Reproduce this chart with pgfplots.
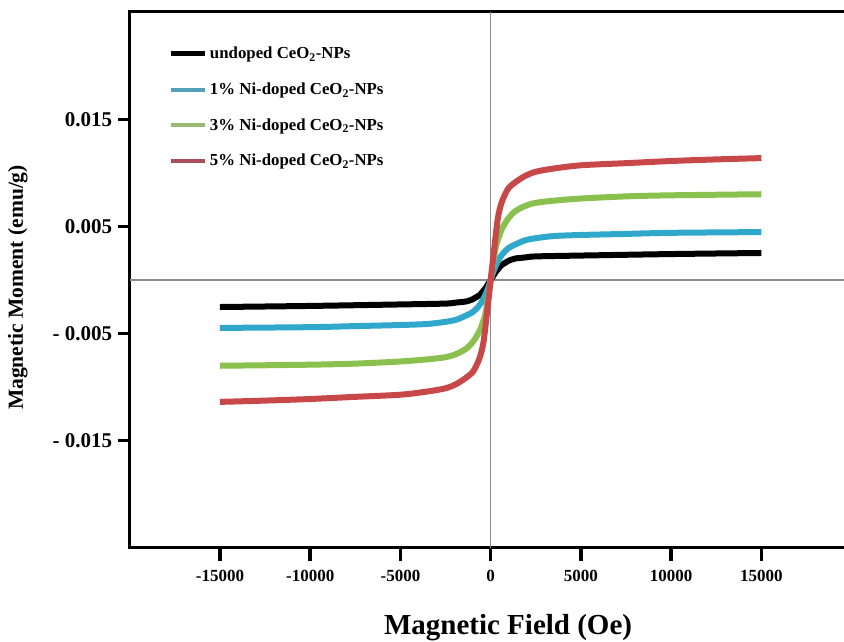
\documentclass[border=0pt]{standalone}
\usepackage{fontspec}
\setmainfont{Liberation Serif}
\usepackage{pgfplots}
\pgfplotsset{compat=1.18}

\definecolor{curvered}{RGB}{200,72,74}
\definecolor{curvegreen}{RGB}{138,192,78}
\definecolor{curveblue}{RGB}{48,168,204}
\definecolor{legred}{RGB}{172,78,92}
\definecolor{leggreen}{RGB}{152,186,112}
\definecolor{legblue}{RGB}{82,160,186}
\definecolor{zeroline}{RGB}{140,140,140}

\begin{document}
\begin{tikzpicture}
\begin{axis}[
name=ax,
scale only axis,
width=722pt, height=536pt,
xmin=-20000, xmax=20000,
ymin=-0.025, ymax=0.025,
scaled x ticks=false, scaled y ticks=false,
axis line style={line width=3pt},
tick align=outside,
tick pos=left,
major tick length=12pt,
xtick style={draw=black, line width=3.5pt},
ytick style={draw=black, line width=3pt},
xtick={-15000,-10000,-5000,0,5000,10000,15000},
xticklabels={-15000,-10000,-5000,0,5000,10000,15000},
ytick={-0.015,-0.005,0.005,0.015},
yticklabels={- 0.015,- 0.005,0.005,0.015},
xticklabel style={font=\fontsize{17}{17}\selectfont\bfseries, yshift=-7pt},
yticklabel style={font=\fontsize{21}{21}\selectfont\bfseries, xshift=-2pt},
xlabel={Magnetic Field (Oe)},
ylabel={Magnetic Moment (emu/g)},
xlabel style={font=\fontsize{29}{29}\selectfont\bfseries, at={(axis description cs:0.524,-0.1605)}, anchor=base},
ylabel style={font=\fontsize{21.5}{21.5}\selectfont\bfseries, at={(axis description cs:-0.155,0.486)}, anchor=center, rotate=0},
legend cell align=left,
legend image code/.code={\draw[#1] (0pt,0pt) -- (34pt,0pt);},
legend style={draw=none, fill=none, at={(axis cs:-18000,0.0221)}, anchor=north west,
  font=\fontsize{16.8}{16.8}\selectfont\bfseries, row sep=18.5pt},
]
\draw[zeroline, line width=1.5pt] (axis cs:0,-0.025) -- (axis cs:0,0.025);
\draw[zeroline, line width=1.5pt] (axis cs:-20000,0) -- (axis cs:20000,0);

\addlegendimage{black, line width=5pt}
\addlegendentry{undoped CeO\textsubscript{2}-NPs}
\addlegendimage{legblue, line width=4pt}
\addlegendentry{1\% Ni-doped CeO\textsubscript{2}-NPs}
\addlegendimage{leggreen, line width=4pt}
\addlegendentry{3\% Ni-doped CeO\textsubscript{2}-NPs}
\addlegendimage{legred, line width=4pt}
\addlegendentry{5\% Ni-doped CeO\textsubscript{2}-NPs}

% undoped
\addplot[black, line width=6pt, smooth, tension=0.5, forget plot] table {
-15000 -0.00252
-10000 -0.00242
-5000 -0.00228
-2500 -0.0022
-1900 -0.0021
-1350 -0.0020
-1000 -0.0018
-800 -0.0016
-600 -0.0014
-450 -0.0011
-300 -0.0008
-150 -0.0004
0 0
150 0.0004
300 0.0008
450 0.0011
600 0.0014
800 0.0016
1000 0.0018
1350 0.0020
1900 0.0021
2500 0.0022
5000 0.00228
10000 0.00242
15000 0.00252
};
% 1% Ni
\addplot[curveblue, line width=6pt, smooth, tension=0.5, forget plot] table {
-15000 -0.00447
-10000 -0.0044
-7500 -0.0043
-5000 -0.0042
-3500 -0.0041
-2500 -0.0039
-1900 -0.0037
-1350 -0.0033
-1000 -0.0030
-800 -0.0027
-600 -0.0023
-450 -0.0019
-300 -0.0014
-150 -0.0008
0 0
150 0.0008
300 0.0014
450 0.0019
600 0.0023
800 0.0027
1000 0.0030
1350 0.0033
1900 0.0037
2500 0.0039
3500 0.0041
5000 0.0042
7500 0.0043
10000 0.0044
15000 0.00447
};
% 3% Ni
\addplot[curvegreen, line width=6pt, smooth, tension=0.5, forget plot] table {
-15000 -0.0080
-10000 -0.0079
-7500 -0.0078
-5000 -0.0076
-3500 -0.0074
-2500 -0.0072
-1900 -0.0069
-1350 -0.0064
-1000 -0.0058
-800 -0.0053
-600 -0.0047
-450 -0.0040
-300 -0.0032
-150 -0.0017
0 0
150 0.0017
300 0.0032
450 0.0040
600 0.0047
800 0.0053
1000 0.0058
1350 0.0064
1900 0.0069
2500 0.0072
3500 0.0074
5000 0.0076
7500 0.0078
10000 0.0079
15000 0.0080
};
% 5% Ni
\addplot[curvered, line width=6pt, smooth, tension=0.5, forget plot] table {
-15000 -0.01137
-12500 -0.01125
-10000 -0.0111
-7500 -0.0109
-5000 -0.0107
-3500 -0.0104
-2500 -0.0101
-1900 -0.0097
-1350 -0.0091
-1000 -0.0086
-800 -0.0080
-600 -0.0072
-400 -0.0058
-200 -0.0030
0 0
200 0.0030
400 0.0058
600 0.0072
800 0.0080
1000 0.0086
1350 0.0091
1900 0.0097
2500 0.0101
3500 0.0104
5000 0.0107
7500 0.0109
10000 0.0111
12500 0.01125
15000 0.01137
};
\end{axis}
% x tick marks drawn once more below the bottom spine (every 90.25pt)
\foreach \i in {1,...,7}
  \draw[black, line width=3.5pt] ([xshift=\i*90.25pt]ax.south west) -- ++(0pt,-13pt);
\pgfresetboundingbox
\path ([shift={(-129.7pt,-94pt)}]ax.south west) rectangle ([shift={(714.3pt,548pt)}]ax.south west);
\end{tikzpicture}
\end{document}
